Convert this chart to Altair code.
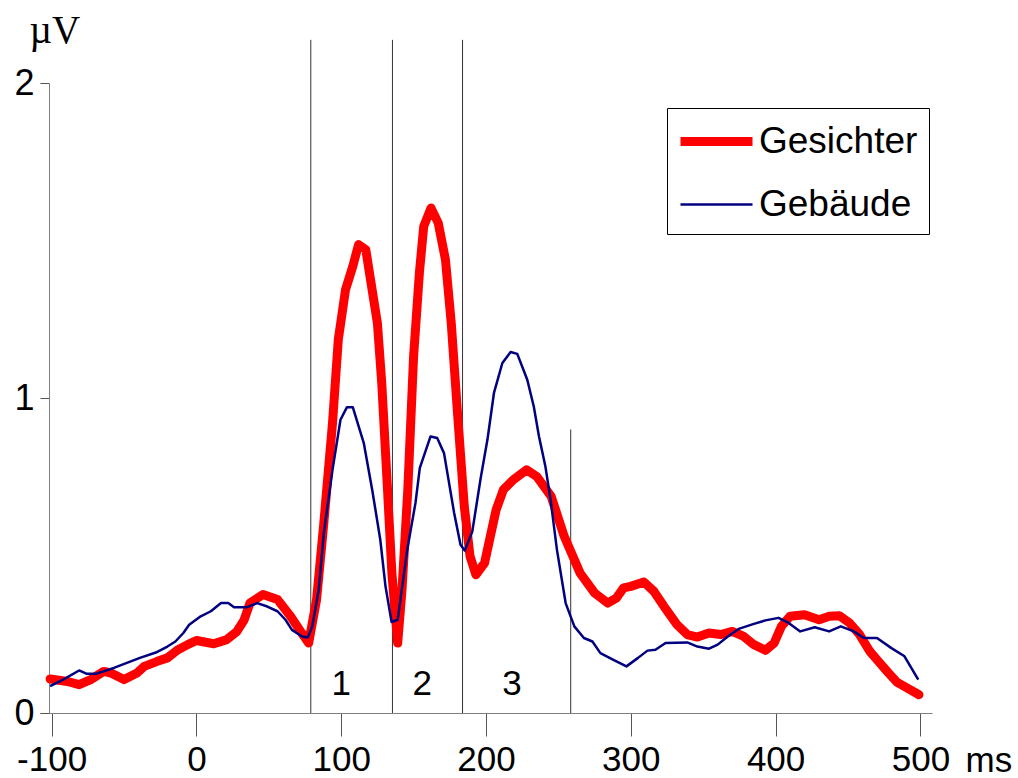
import altair as alt
import pandas as pd

# ---- data ----
series = ["Gesichter", "Gebäude"]
series_colors = ["#ff0000", "#000080"]
series_widths = [9, 2.5]

ges_t = [-101, -89, -81, -73, -64, -59, -50, -41, -36, -27, -20, -13, -6, 0, 12, 21, 28, 33, 37, 46,
         56, 65, 72, 77.5, 83, 88, 94, 98, 103, 108, 112, 117, 121, 125, 128, 132, 135, 139, 142, 146,
         150, 154, 157, 162, 167, 172, 176, 180, 185, 189, 193, 199, 203, 207, 212, 219, 228, 235, 245, 254,
         265, 275, 284, 290, 295, 300, 309, 316, 323, 332, 339, 346, 354, 362, 370, 378, 385, 393, 399, 404,
         410, 420, 430, 437, 444, 451, 458, 465, 471, 478, 484, 491, 499]
ges_v = [0.108, 0.100, 0.090, 0.106, 0.132, 0.127, 0.106, 0.127, 0.148, 0.164, 0.175, 0.200, 0.217, 0.230, 0.220, 0.233, 0.259, 0.296, 0.349, 0.376,
         0.360, 0.307, 0.259, 0.222, 0.360, 0.603, 0.920, 1.185, 1.344, 1.418, 1.487, 1.471, 1.354, 1.238, 1.048, 0.709, 0.444, 0.222, 0.391, 0.709,
         1.132, 1.397, 1.545, 1.603, 1.556, 1.439, 1.238, 0.973, 0.656, 0.497, 0.439, 0.476, 0.561, 0.645, 0.709, 0.741, 0.772, 0.751, 0.688, 0.561,
         0.444, 0.381, 0.349, 0.365, 0.397, 0.402, 0.416, 0.386, 0.338, 0.280, 0.249, 0.241, 0.254, 0.249, 0.259, 0.243, 0.217, 0.199, 0.222, 0.275,
         0.307, 0.312, 0.296, 0.307, 0.309, 0.286, 0.249, 0.196, 0.164, 0.127, 0.097, 0.079, 0.058]

geb_t = [-101, -92, -81, -76, -69, -57, -48, -39, -28, -20, -14.5, -9, -5, 3, 10, 17, 22, 26, 35, 42,
         49, 56, 61.5, 66, 73, 77, 80, 84.5, 88, 94, 99.5, 104, 108, 115.6, 121.4, 127, 130.6, 134.8, 139, 145.6,
         151.3, 154.3, 161.7, 166.3, 171, 178, 182.4, 185.3, 190.5, 196.3, 201, 205.5, 211.3, 217, 221.6, 228.5, 233, 236.6, 241, 244.6,
         249, 255, 261, 267.6, 273.5, 279, 288, 297, 305, 311.5, 317, 324, 339, 346, 354, 360, 367, 375, 385, 393,
         402, 409, 417, 427, 437, 445, 454, 461, 470, 480, 489, 498.5]
geb_v = [0.085, 0.106, 0.135, 0.125, 0.125, 0.143, 0.159, 0.175, 0.192, 0.211, 0.227, 0.254, 0.280, 0.307, 0.323, 0.349, 0.349, 0.336, 0.336, 0.349,
         0.338, 0.323, 0.296, 0.264, 0.243, 0.240, 0.275, 0.391, 0.571, 0.772, 0.931, 0.971, 0.971, 0.857, 0.709, 0.550, 0.402, 0.289, 0.296, 0.518,
         0.667, 0.778, 0.878, 0.873, 0.825, 0.635, 0.534, 0.516, 0.575, 0.745, 0.868, 1.016, 1.111, 1.146, 1.140, 1.058, 0.973, 0.878, 0.783, 0.677,
         0.518, 0.349, 0.275, 0.238, 0.227, 0.190, 0.169, 0.148, 0.175, 0.198, 0.201, 0.222, 0.224, 0.211, 0.204, 0.217, 0.243, 0.268, 0.283, 0.294,
         0.302, 0.286, 0.259, 0.272, 0.259, 0.275, 0.259, 0.238, 0.238, 0.206, 0.180, 0.106]

boundary_x = [79, 135.4, 183.8, 258.5]
boundary_top = [2.137, 2.137, 2.137, 0.9]

region_labels = ["1", "2", "3"]
region_x = [100, 156, 218]
region_y = [0.058, 0.058, 0.058]

x_ticks = [-100, 0, 100, 200, 300, 400, 500]
y_ticks = [0, 1, 2]

# ---- tables ----
df_ges = pd.DataFrame({"t": ges_t, "v": ges_v, "series": series[0]})
df_geb = pd.DataFrame({"t": geb_t, "v": geb_v, "series": series[1]})
df_bound = pd.DataFrame({"t": boundary_x, "y0": [0] * len(boundary_x), "y1": boundary_top})
df_lab = pd.DataFrame({"t": region_x, "v": region_y, "label": region_labels})

FONT = "Liberation Sans"

xscale = alt.Scale(domain=[-108, 508], nice=False, zero=False)
yscale = alt.Scale(domain=[0, 2], nice=False, zero=False)

xaxis = alt.Axis(values=x_ticks, labelExpr="'' + datum.value", tickSize=23, labelFontSize=35,
                 labelFont=FONT, labelColor="black", labelPadding=6, domainColor="#808080",
                 tickColor="#555555", grid=False, title="ms", titleX=925, titleY=58,
                 titleAlign="left", titleBaseline="alphabetic", titleFontSize=35, titleFont=FONT,
                 titleFontWeight="normal", titleColor="black", labelFlush=False, labelOverlap=False)
yaxis = alt.Axis(values=y_ticks, labelExpr="'' + datum.value", tickSize=9, labelFontSize=36,
                 labelFont=FONT, labelColor="black", labelPadding=6, domainColor="#808080",
                 tickColor="#555555", grid=False, offset=-9, title="µV", titleAngle=0,
                 titleX=-20, titleY=-41, titleAlign="left", titleBaseline="alphabetic",
                 titleFont="Liberation Serif", titleFontSize=39, titleFontWeight="normal",
                 titleColor="black")

color_enc = alt.Color("series:N", scale=alt.Scale(domain=series, range=series_colors),
                      legend=alt.Legend(title=None))
width_enc = alt.StrokeWidth("series:N", scale=alt.Scale(domain=series, range=series_widths),
                            legend=alt.Legend(title=None))

rules = alt.Chart(df_bound).mark_rule(color="#333333", strokeWidth=1).encode(
    x=alt.X("t:Q", scale=xscale, axis=xaxis),
    y=alt.Y("y0:Q", scale=yscale, axis=yaxis),
    y2="y1:Q",
)

line_ges = alt.Chart(df_ges).mark_line(strokeCap="round", strokeJoin="round").encode(
    x=alt.X("t:Q", scale=xscale),
    y=alt.Y("v:Q", scale=yscale),
    color=color_enc,
    strokeWidth=width_enc,
)
line_geb = alt.Chart(df_geb).mark_line(strokeJoin="round").encode(
    x=alt.X("t:Q", scale=xscale),
    y=alt.Y("v:Q", scale=yscale),
    color=color_enc,
    strokeWidth=width_enc,
)

labels = alt.Chart(df_lab).mark_text(fontSize=35, font=FONT, color="black", baseline="alphabetic",
                                     align="center").encode(
    x=alt.X("t:Q", scale=xscale),
    y=alt.Y("v:Q", scale=yscale),
    text="label:N",
)

chart = alt.layer(rules, line_ges, line_geb, labels).properties(
    width=892, height=630,
    autosize=alt.AutoSizeParams(type="none"),
    padding={"left": 40, "top": 83, "right": 86, "bottom": 65},
).configure_view(stroke=None).configure_legend(
    orient="none", legendX=627, legendY=25, strokeColor="black", fillColor="white",
    padding=11, symbolType="M-2,0H2", symbolSize=1296, labelFontSize=37, labelFont=FONT,
    labelColor="black", labelLimit=400, rowPadding=25, symbolOffset=16, labelOffset=20,
)

chart.save("out.html", embed_options={"renderer": "svg", "actions": False})
